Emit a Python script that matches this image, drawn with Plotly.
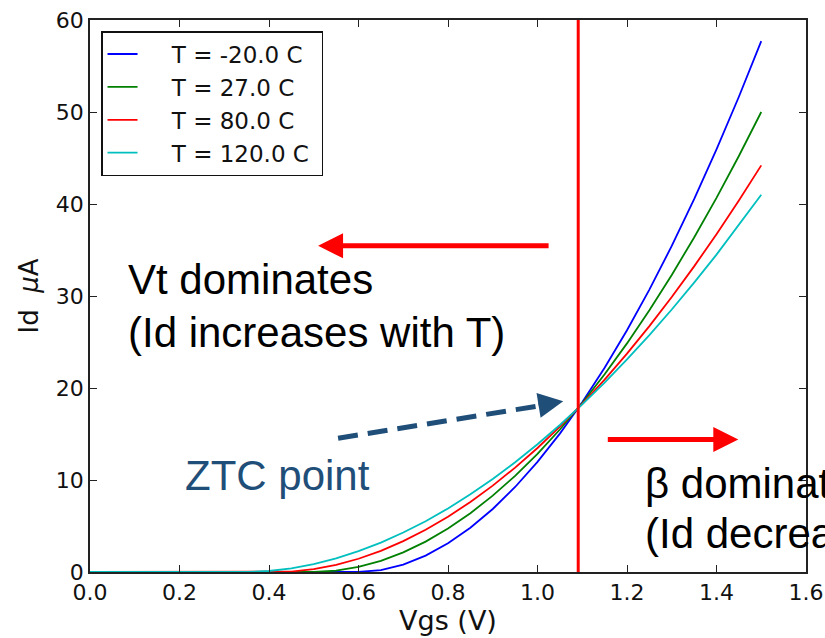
import plotly.graph_objects as go

# ---- data ----
vgs = [0.00, 0.05, 0.10, 0.15, 0.20, 0.25, 0.30, 0.35, 0.40, 0.45, 0.50,
       0.55, 0.60, 0.65, 0.70, 0.75, 0.80, 0.85, 0.90, 0.95, 1.00,
       1.05, 1.10, 1.15, 1.20, 1.25, 1.30, 1.35, 1.40, 1.45, 1.50]

id_m20 = [0, 0, 0, 0, 0, 0, 0, 0, 0, 0, 0,
          0, 0, 0.21, 0.81, 1.78, 3.12, 4.81, 6.85, 9.24, 11.97,
          15.04, 18.45, 22.20, 26.28, 30.70, 35.44, 40.52, 45.93, 51.66, 57.71]
id_27 = [0, 0, 0, 0, 0, 0, 0, 0, 0, 0, 0,
         0.14, 0.55, 1.21, 2.13, 3.30, 4.72, 6.39, 8.30, 10.45, 12.85,
         15.49, 18.37, 21.49, 24.85, 28.45, 32.29, 36.36, 40.67, 45.22, 50.00]
id_80 = [0, 0, 0, 0, 0, 0, 0, 0, 0, 0.05, 0.31,
         0.78, 1.44, 2.30, 3.36, 4.59, 6.01, 7.61, 9.39, 11.35, 13.48,
         15.79, 18.27, 20.92, 23.74, 26.73, 29.89, 33.22, 36.72, 40.38, 44.20]
id_120 = [0, 0, 0, 0, 0, 0, 0, 0, 0.11, 0.40, 0.86,
          1.48, 2.26, 3.20, 4.29, 5.52, 6.91, 8.44, 10.11, 11.93, 13.88,
          15.98, 18.22, 20.59, 23.10, 25.75, 28.53, 31.45, 34.50, 37.69, 41.00]

series_names = ["T = -20.0 C", "T = 27.0 C", "T = 80.0 C", "T = 120.0 C"]
series_values = [id_m20, id_27, id_80, id_120]
series_colors = ["#0000FF", "#008000", "#FF0000", "#00BFBF"]

ztc_vgs = 1.091
x_ticks = [0.0, 0.2, 0.4, 0.6, 0.8, 1.0, 1.2, 1.4, 1.6]
y_ticks = [0, 10, 20, 30, 40, 50, 60]

mpl_font = "DejaVu Sans"
ann_font = "Liberation Sans, Arial"
dark_blue = "#1F4E79"
NB = "\u00a0"

fig = go.Figure()
for i, (name, vals, col) in enumerate(zip(series_names, series_values, series_colors)):
    fig.add_trace(go.Scatter(x=vgs, y=vals, mode="lines",
                             name=NB * 4 + name + NB,
                             legendgroup=f"g{i}",
                             line=dict(color=col, width=1.8)))

axis_common = dict(showline=True, linecolor="#222", linewidth=1.5,
                   mirror="ticks", ticks="inside", ticklen=7, tickwidth=1.3,
                   tickcolor="#222", showgrid=False, zeroline=False,
                   automargin=False,
                   tickfont=dict(family=mpl_font, size=22, color="#111"))

fig.update_layout(
    width=825, height=638,
    margin=dict(l=90, r=19, t=20, b=66, autoexpand=False),
    paper_bgcolor="white", plot_bgcolor="white",
    font=dict(family=mpl_font, color="#111"),
    xaxis=dict(range=[0, 1.6], tickvals=x_ticks,
               ticktext=[f"{v:.1f}" for v in x_ticks],
               title=dict(text="Vgs (V)", font=dict(family=mpl_font, size=27), standoff=6),
               **axis_common),
    yaxis=dict(range=[0, 60], tickvals=y_ticks,
               title=dict(text="Id" + NB * 2 + "<i>μ</i>A", font=dict(family=mpl_font, size=26), standoff=10),
               **axis_common),
    legend=dict(x=0.0154, y=0.98, xanchor="left", yanchor="top",
                bgcolor="white", bordercolor="#111", borderwidth=1.5,
                font=dict(family=mpl_font, size=23, color="#111"),
                tracegroupgap=0),
    showlegend=True,
)

# vertical ZTC line
fig.add_shape(type="line", x0=ztc_vgs, x1=ztc_vgs, y0=0, y1=60,
              xref="x", yref="y", line=dict(color="#FF0000", width=3))

# dashed arrow body
fig.add_shape(type="line", x0=0.5544, y0=14.54, x1=1.0016, y1=18.04,
              xref="x", yref="y", line=dict(color=dark_blue, width=5, dash="20px,10px"))

# arrows
fig.add_annotation(x=1.0575, y=18.56, ax=-26, ay=4.3, text="", showarrow=True,
                   arrowhead=2, arrowsize=1, arrowwidth=5, arrowcolor=dark_blue)
fig.add_annotation(x=0.5097, y=35.45, ax=232, ay=0, text="", showarrow=True,
                   arrowhead=2, arrowsize=1, arrowwidth=5, arrowcolor="#FF0000")
fig.add_annotation(x=1.4487, y=14.40, ax=-132, ay=0, text="", showarrow=True,
                   arrowhead=2, arrowsize=1, arrowwidth=5, arrowcolor="#FF0000")

# text annotations
def txt(x, y, s, color="#000"):
    fig.add_annotation(x=x, y=y, text=s, showarrow=False, xanchor="left",
                       yanchor="middle", font=dict(family=ann_font, size=42, color=color))

txt(0.080, 31.8, "Vt dominates")
txt(0.080, 26.0, "(Id increases with T)")
txt(0.208, 10.5, "ZTC point", dark_blue)
txt(1.236, 9.6, "β dominates")
txt(1.236, 4.2, "(Id decreases with T)")

fig.write_html("out.html", config={"displayModeBar": False},
               post_script="document.body.style.margin='0';document.body.style.overflow='hidden';")
